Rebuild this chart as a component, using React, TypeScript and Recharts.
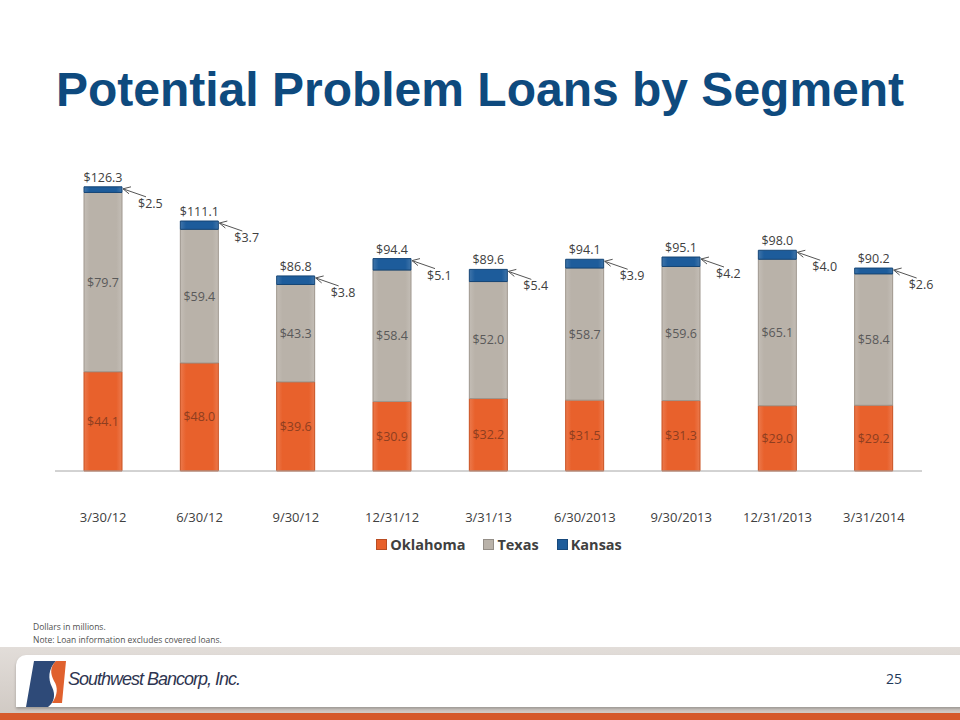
import React from "react";
import { BarChart, Bar, XAxis, YAxis, LabelList } from "recharts";

const periods = ["3/30/12", "6/30/12", "9/30/12", "12/31/12", "3/31/13", "6/30/2013", "9/30/2013", "12/31/2013", "3/31/2014"];
const oklahoma = [44.1, 48.0, 39.6, 30.9, 32.2, 31.5, 31.3, 29.0, 29.2];
const texas = [79.7, 59.4, 43.3, 58.4, 52.0, 58.7, 59.6, 65.1, 58.4];
const kansas = [2.5, 3.7, 3.8, 5.1, 5.4, 3.9, 4.2, 4.0, 2.6];
const totals = [126.3, 111.1, 86.8, 94.4, 89.6, 94.1, 95.1, 98.0, 90.2];

const seriesNames = ["Oklahoma", "Texas", "Kansas"];
const seriesColors = ["#E8612C", "#B9B2A9", "#1D5C9B"];

const data = periods.map((p, i) => ({
  period: p,
  oklahoma: oklahoma[i],
  texas: texas[i],
  kansas: kansas[i],
  total: totals[i],
}));

const FONT = "'Open Sans', 'DejaVu Sans', sans-serif";
const money = (v: any) => `$${Number(v).toFixed(1)}`;

function KansasCallout(props: any) {
  const { x, y, width, value } = props;
  const right = Number(x) + Number(width);
  const top = Number(y);
  const tipX = right + 1;
  const tipY = top + 2;
  const tailX = right + 24;
  const tailY = top + 10;
  return (
    <g>
      <line x1={tipX} y1={tipY} x2={tailX} y2={tailY} stroke="#555" strokeWidth={1} />
      <polyline
        points={`${tipX + 8},${tipY - 2} ${tipX},${tipY} ${tipX + 6},${tipY + 5}`}
        fill="none"
        stroke="#555"
        strokeWidth={1}
      />
      <text x={right + 16} y={top + 21} fill="#404040" fontSize={12.5} fontFamily={FONT}>
        {money(value)}
      </text>
    </g>
  );
}

function Legend() {
  return (
    <div
      style={{
        position: "absolute",
        top: 535,
        left: 0,
        width: 998,
        display: "flex",
        justifyContent: "center",
        gap: 18,
        fontFamily: FONT,
        fontWeight: 700,
        fontSize: 14.5,
        color: "#404040",
      }}
    >
      {seriesNames.map((n, i) => (
        <div key={n} style={{ display: "flex", alignItems: "center", gap: 3 }}>
          <span
            style={{
              width: 9,
              height: 9,
              background: seriesColors[i],
              border: "1px solid rgba(0,0,0,0.2)",
              display: "inline-block",
            }}
          />
          <span>{n}</span>
        </div>
      ))}
    </div>
  );
}

function Footer() {
  return (
    <>
      <div style={{ position: "absolute", left: 33, top: 620, fontFamily: FONT, fontSize: 8.5, color: "#505050", lineHeight: "13px" }}>
        <div>Dollars in millions.</div>
        <div>Note: Loan information excludes covered loans.</div>
      </div>
      <div style={{ position: "absolute", left: 0, top: 647, width: 960, height: 73, background: "linear-gradient(#e2ddd9, #cfc8c2)" }} />
      <div
        style={{
          position: "absolute",
          left: 16,
          top: 655,
          width: 960,
          height: 52,
          background: "#fff",
          borderTopLeftRadius: 10,
          boxShadow: "0 2px 3px rgba(0,0,0,0.25)",
        }}
      />
      <div style={{ position: "absolute", left: 0, top: 713, width: 960, height: 7, background: "#D65A2C" }} />
      <svg style={{ position: "absolute", left: 22, top: 657 }} width={50} height={50}>
        <path d="M12 4 L34 4 C26 12 26 22 30 30 C34 38 32 46 26 50 L4 50 Z" fill="#2E4A78" />
        <path d="M34 4 L44 4 L40 46 L30 46 C36 38 36 30 32 24 C28 16 28 10 34 4 Z" fill="#E0612E" />
      </svg>
      <div
        style={{
          position: "absolute",
          left: 68,
          top: 669,
          fontFamily: "'Liberation Sans', Arial, sans-serif",
          fontStyle: "italic",
          fontSize: 18,
          letterSpacing: -1,
          color: "#2E3550",
        }}
      >
        Southwest Bancorp, Inc.
      </div>
      <div style={{ position: "absolute", left: 886, top: 669, fontFamily: FONT, fontSize: 14, color: "#1F3A5A" }}>25</div>
    </>
  );
}

export default function App() {
  return (
    <div style={{ position: "absolute", left: 0, top: 0, width: 960, height: 720, background: "#fff", overflow: "hidden" }}>
      <div
        style={{
          position: "absolute",
          top: 60,
          left: 0,
          width: 960,
          textAlign: "center",
          fontFamily: "'Liberation Sans', Arial, sans-serif",
          fontWeight: 700,
          fontSize: 48,
          color: "#0E4A7E",
          lineHeight: "60px",
        }}
      >
        Potential Problem Loans by Segment
      </div>
      <div style={{ position: "absolute", left: 0, top: 0 }}>
        <BarChart
          width={960}
          height={560}
          data={data}
          margin={{ top: 156, right: 38, bottom: 39, left: 55 }}
          barSize={38}
        >
          <defs>
            {seriesColors.map((c, i) => (
              <linearGradient key={c} id={`g${i}`} x1="0" y1="0" x2="1" y2="0">
                <stop offset="0%" stopColor={c} stopOpacity={0.85} />
                <stop offset="15%" stopColor={c} />
                <stop offset="85%" stopColor={c} />
                <stop offset="100%" stopColor={c} stopOpacity={0.85} />
              </linearGradient>
            ))}
          </defs>
          <XAxis
            dataKey="period"
            height={50}
            tickLine={false}
            axisLine={{ stroke: "#A6A6A6" }}
            tickMargin={36}
            tick={{ fontSize: 13, fill: "#404040", fontFamily: FONT }}
            interval={0}
          />
          <YAxis hide domain={[0, 140]} />
          <Bar dataKey="oklahoma" stackId="a" fill="url(#g0)" stroke="#C9501F" strokeWidth={1} isAnimationActive={false}>
            <LabelList dataKey="oklahoma" position="center" formatter={money} fill="#8E3E20" fontSize={12.5} fontFamily={FONT} />
          </Bar>
          <Bar dataKey="texas" stackId="a" fill="url(#g1)" stroke="#9E968D" strokeWidth={1} isAnimationActive={false}>
            <LabelList dataKey="texas" position="center" formatter={money} fill="#595959" fontSize={12.5} fontFamily={FONT} />
          </Bar>
          <Bar dataKey="kansas" stackId="a" fill="url(#g2)" stroke="#154575" strokeWidth={1} isAnimationActive={false}>
            <LabelList dataKey="kansas" content={KansasCallout} />
            <LabelList dataKey="total" position="top" offset={5} formatter={money} fill="#404040" fontSize={12.5} fontFamily={FONT} />
          </Bar>
        </BarChart>
      </div>
      <Legend />
      <Footer />
    </div>
  );
}
